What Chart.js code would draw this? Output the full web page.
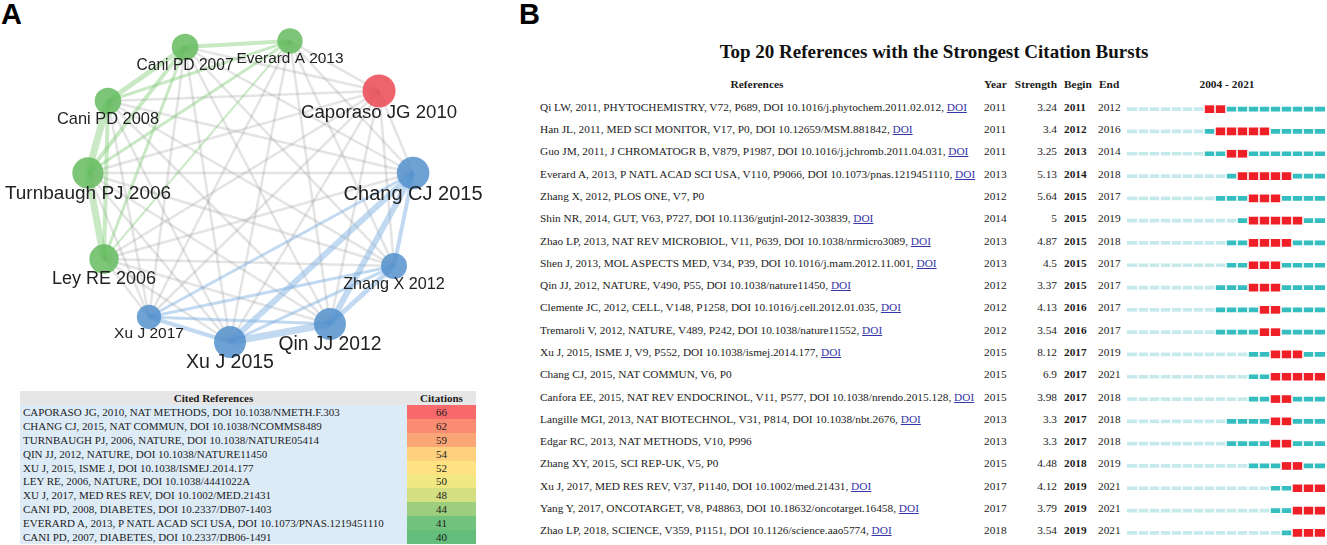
<!DOCTYPE html>
<html>
<head>
<meta charset="utf-8">
<script src="https://cdn.jsdelivr.net/npm/chart.js@4.4.0/dist/chart.umd.min.js"></script>
<style>
  html, body { margin: 0; padding: 0; background: #fff; }
  body { width: 1327px; height: 545px; position: relative; overflow: hidden;
         font-family: "Liberation Serif", "Times New Roman", serif; color: #1c1c1c; }
  .abs { position: absolute; white-space: nowrap; }
  .tag { font-family: "Liberation Sans", Arial, sans-serif; font-weight: bold; font-size: 29px; line-height: 29px; color: #000; }
  .title { font-weight: bold; font-size: 19px; line-height: 22px; text-align: center; color: #111; }
  .hdr { font-weight: bold; font-size: 11.4px; line-height: 14px; }
  .row { font-size: 11.3px; line-height: 14px; }
  .doi { color: #3535a8; text-decoration: underline; }
  .cell { position: absolute; font-size: 11px; line-height: 14px; white-space: nowrap; overflow: hidden; }
</style>
</head>
<body>
<div class="abs tag" style="left:1px;top:0">A</div>
<div class="abs tag" style="left:519px;top:0">B</div>
<canvas id="network" width="510" height="385" style="position:absolute;left:0;top:0"></canvas>
<div id="citeTable"></div>
<div class="abs title" style="left:634px;top:41px;width:600px">Top 20 References with the Strongest Citation Bursts</div>
<div id="burstText"></div>
<canvas id="bursts" width="207" height="545" style="position:absolute;left:1120px;top:0"></canvas>
<script>
// ---- panel A: co-citation network ----
var nodeNames = ['Caporaso JG 2010', 'Chang CJ 2015', 'Turnbaugh PJ 2006', 'Qin JJ 2012', 'Xu J 2015',
                 'Ley RE 2006', 'Xu J 2017', 'Cani PD 2008', 'Everard A 2013', 'Cani PD 2007', 'Zhang X 2012'];
var nodeCluster = ['red', 'blue', 'green', 'blue', 'blue', 'green', 'blue', 'green', 'green', 'green', 'blue'];

// links inside the two clusters: [source, target, weight]
var clusterLinks = [
    ['Cani PD 2007', 'Everard A 2013', 4], ['Cani PD 2007', 'Cani PD 2008', 5],
    ['Cani PD 2008', 'Turnbaugh PJ 2006', 7], ['Turnbaugh PJ 2006', 'Ley RE 2006', 7],
    ['Cani PD 2008', 'Ley RE 2006', 4], ['Cani PD 2007', 'Turnbaugh PJ 2006', 4],
    ['Cani PD 2007', 'Ley RE 2006', 3], ['Everard A 2013', 'Cani PD 2008', 3],
    ['Everard A 2013', 'Turnbaugh PJ 2006', 3], ['Everard A 2013', 'Ley RE 2006', 2],
    ['Chang CJ 2015', 'Zhang X 2012', 4], ['Chang CJ 2015', 'Qin JJ 2012', 6],
    ['Chang CJ 2015', 'Xu J 2015', 6], ['Chang CJ 2015', 'Xu J 2017', 3],
    ['Zhang X 2012', 'Qin JJ 2012', 5], ['Zhang X 2012', 'Xu J 2015', 3],
    ['Zhang X 2012', 'Xu J 2017', 3], ['Qin JJ 2012', 'Xu J 2015', 7],
    ['Qin JJ 2012', 'Xu J 2017', 3], ['Xu J 2015', 'Xu J 2017', 4]
];

// layout of the network (normalised coordinates) and node sizes
var nodeX = [0.717, 0.906, -0.9, 0.444, -0.111, -0.811, -0.561, -0.789, 0.222, -0.361, 0.8];
var nodeY = [-0.606, -0.15, -0.15, 0.689, 0.789, 0.328, 0.65, -0.55, -0.883, -0.85, 0.367];
var nodeRadius = [16.5, 16.3, 15.7, 16, 16, 14.7, 12.2, 13.3, 12.7, 13.3, 13];
var labelSize = [18.6, 20, 19, 19.3, 19.5, 18, 15.5, 16.4, 15.4, 15.6, 16.2];

// ---- panel A: cited references table ----
var citedRefs = [
    'CAPORASO JG, 2010, NAT METHODS, DOI 10.1038/NMETH.F.303',
    'CHANG CJ, 2015, NAT COMMUN, DOI 10.1038/NCOMMS8489',
    'TURNBAUGH PJ, 2006, NATURE, DOI 10.1038/NATURE05414',
    'QIN JJ, 2012, NATURE, DOI 10.1038/NATURE11450',
    'XU J, 2015, ISME J, DOI 10.1038/ISMEJ.2014.177',
    'LEY RE, 2006, NATURE, DOI 10.1038/4441022A',
    'XU J, 2017, MED RES REV, DOI 10.1002/MED.21431',
    'CANI PD, 2008, DIABETES, DOI 10.2337/DB07-1403',
    'EVERARD A, 2013, P NATL ACAD SCI USA, DOI 10.1073/PNAS.1219451110',
    'CANI PD, 2007, DIABETES, DOI 10.2337/DB06-1491'
];
var citations = [66, 62, 59, 54, 52, 50, 48, 44, 41, 40];

// ---- panel B: citation bursts ----
var burstRefs = [
    'Qi LW, 2011, PHYTOCHEMISTRY, V72, P689, DOI 10.1016/j.phytochem.2011.02.012',
    'Han JL, 2011, MED SCI MONITOR, V17, P0, DOI 10.12659/MSM.881842',
    'Guo JM, 2011, J CHROMATOGR B, V879, P1987, DOI 10.1016/j.jchromb.2011.04.031',
    'Everard A, 2013, P NATL ACAD SCI USA, V110, P9066, DOI 10.1073/pnas.1219451110',
    'Zhang X, 2012, PLOS ONE, V7, P0',
    'Shin NR, 2014, GUT, V63, P727, DOI 10.1136/gutjnl-2012-303839',
    'Zhao LP, 2013, NAT REV MICROBIOL, V11, P639, DOI 10.1038/nrmicro3089',
    'Shen J, 2013, MOL ASPECTS MED, V34, P39, DOI 10.1016/j.mam.2012.11.001',
    'Qin JJ, 2012, NATURE, V490, P55, DOI 10.1038/nature11450',
    'Clemente JC, 2012, CELL, V148, P1258, DOI 10.1016/j.cell.2012.01.035',
    'Tremaroli V, 2012, NATURE, V489, P242, DOI 10.1038/nature11552',
    'Xu J, 2015, ISME J, V9, P552, DOI 10.1038/ismej.2014.177',
    'Chang CJ, 2015, NAT COMMUN, V6, P0',
    'Canfora EE, 2015, NAT REV ENDOCRINOL, V11, P577, DOI 10.1038/nrendo.2015.128',
    'Langille MGI, 2013, NAT BIOTECHNOL, V31, P814, DOI 10.1038/nbt.2676',
    'Edgar RC, 2013, NAT METHODS, V10, P996',
    'Zhang XY, 2015, SCI REP-UK, V5, P0',
    'Xu J, 2017, MED RES REV, V37, P1140, DOI 10.1002/med.21431',
    'Yang Y, 2017, ONCOTARGET, V8, P48863, DOI 10.18632/oncotarget.16458',
    'Zhao LP, 2018, SCIENCE, V359, P1151, DOI 10.1126/science.aao5774'
];
var hasDoiLink = [true, true, true, true, false, true, true, true, true, true,
                  true, true, false, true, true, false, false, true, true, true];
var pubYear = [2011, 2011, 2011, 2013, 2012, 2014, 2013, 2013, 2012, 2012,
               2012, 2015, 2015, 2015, 2013, 2013, 2015, 2017, 2017, 2018];
var strength = [3.24, 3.4, 3.25, 5.13, 5.64, 5, 4.87, 4.5, 3.37, 4.13,
                3.54, 8.12, 6.9, 3.98, 3.3, 3.3, 4.48, 4.12, 3.79, 3.54];
var beginYear = [2011, 2012, 2013, 2014, 2015, 2015, 2015, 2015, 2015, 2016,
                 2016, 2017, 2017, 2017, 2017, 2017, 2018, 2019, 2019, 2019];
var endYear = [2012, 2016, 2014, 2018, 2017, 2019, 2018, 2017, 2017, 2017,
               2017, 2019, 2021, 2018, 2018, 2018, 2019, 2021, 2021, 2021];
var firstYear = 2004, lastYear = 2021;

// ================= network chart =================
var nodeColor = { green: 'rgba(96,186,90,0.82)', red: 'rgba(236,72,84,0.85)', blue: 'rgba(78,142,204,0.82)' };
var linkColor = { green: 'rgba(120,200,110,0.4)', blue: 'rgba(120,172,225,0.45)', gray: 'rgba(130,130,130,0.22)' };

function pos(name) {
    var i = nodeNames.indexOf(name);
    return { x: nodeX[i], y: nodeY[i] };
}

var linkSets = [];
var linked = {};
clusterLinks.forEach(function (l) {
    linked[l[0] + '|' + l[1]] = linked[l[1] + '|' + l[0]] = true;
    linkSets.push({
        data: [pos(l[0]), pos(l[1])], showLine: true, pointRadius: 0,
        borderColor: linkColor[nodeCluster[nodeNames.indexOf(l[0])]], borderWidth: l[2], order: 1
    });
});
// every other pair is co-cited as well, drawn as thin grey links
for (var a = 0; a < nodeNames.length; a++) {
    for (var b = a + 1; b < nodeNames.length; b++) {
        if (linked[nodeNames[a] + '|' + nodeNames[b]]) continue;
        linkSets.push({
            data: [pos(nodeNames[a]), pos(nodeNames[b])], showLine: true, pointRadius: 0,
            borderColor: linkColor.gray, borderWidth: 2.5, order: 1
        });
    }
}

var nodeLabels = {
    id: 'nodeLabels',
    afterDatasetsDraw: function (chart) {
        var ctx = chart.ctx;
        var meta = chart.getDatasetMeta(0);
        ctx.save();
        ctx.fillStyle = '#222';
        ctx.textAlign = 'center';
        ctx.textBaseline = 'middle';
        meta.data.forEach(function (pt, i) {
            ctx.font = labelSize[i] + 'px "Liberation Sans", Arial, sans-serif';
            ctx.fillText(nodeNames[i], pt.x, pt.y + nodeRadius[i] + 5);
        });
        ctx.restore();
    }
};

new Chart(document.getElementById('network'), {
    type: 'scatter',
    data: {
        datasets: [{
            data: nodeNames.map(function (n) { return pos(n); }),
            pointRadius: nodeRadius,
            pointBackgroundColor: nodeCluster.map(function (c) { return nodeColor[c]; }),
            pointBorderWidth: 0,
            clip: false,
            order: 0
        }].concat(linkSets)
    },
    options: {
        responsive: false,
        animation: false,
        events: [],
        layout: { padding: 0, autoPadding: false },
        scales: {
            x: { type: 'linear', display: false, min: -1.3889, max: 1.4444 },
            y: { type: 'linear', display: false, reverse: true, min: -1.1111, max: 1.0278 }
        },
        plugins: { legend: { display: false }, tooltip: { enabled: false } }
    },
    plugins: [nodeLabels]
});

// ================= cited references table =================
function hex(c) { return [parseInt(c.slice(1, 3), 16), parseInt(c.slice(3, 5), 16), parseInt(c.slice(5, 7), 16)]; }
function mix(c1, c2, t) {
    var p = hex(c1), q = hex(c2);
    return 'rgb(' + p.map(function (v, k) { return Math.round(v + (q[k] - v) * t); }).join(',') + ')';
}
function scaleColor(v) {
    var sorted = citations.slice().sort(function (x, y) { return x - y; });
    var lo = sorted[0], hi = sorted[sorted.length - 1];
    var mid = (sorted[4] + sorted[5]) / 2;
    if (v <= mid) return mix('#63BE7B', '#FFEB84', (v - lo) / (mid - lo));
    return mix('#FFEB84', '#F8696B', (v - mid) / (hi - mid));
}

var tbl = document.getElementById('citeTable');
var tLeft = 20, tSplit = 407, tRight = 476, tTop = 391, hdrH = 14, rowH = 13.9;
var html = '';
html += '<div class="cell" style="left:' + tLeft + 'px;top:' + tTop + 'px;width:' + (tRight - tLeft) + 'px;height:' + hdrH + 'px;background:#e6e6e6"></div>';
html += '<div class="cell" style="left:' + tLeft + 'px;top:' + tTop + 'px;width:' + (tSplit - tLeft) + 'px;text-align:center;font-weight:bold">Cited References</div>';
html += '<div class="cell" style="left:' + tSplit + 'px;top:' + tTop + 'px;width:' + (tRight - tSplit) + 'px;text-align:center;font-weight:bold">Citations</div>';
citedRefs.forEach(function (r, i) {
    var top = Math.round(tTop + hdrH + rowH * i);
    var next = Math.round(tTop + hdrH + rowH * (i + 1));
    var h = next - top;
    html += '<div class="cell" style="left:' + tLeft + 'px;top:' + top + 'px;width:' + (tSplit - tLeft - 3) + 'px;height:' + h + 'px;line-height:' + h + 'px;padding-left:3px;background:#ddebf7">' + r + '</div>';
    html += '<div class="cell" style="left:' + tSplit + 'px;top:' + top + 'px;width:' + (tRight - tSplit) + 'px;height:' + h + 'px;line-height:' + h + 'px;text-align:center;background:' + scaleColor(citations[i]) + '">' + citations[i] + '</div>';
});
tbl.innerHTML = html;

// ================= burst timeline chart =================
var yearGaps = {
    id: 'yearGaps',
    afterDatasetsDraw: function (chart) {
        var ctx = chart.ctx, xs = chart.scales.x, area = chart.chartArea;
        ctx.save();
        ctx.strokeStyle = '#fff';
        ctx.lineWidth = 1.6;
        for (var y = firstYear + 1; y <= lastYear; y++) {
            var px = xs.getPixelForValue(y);
            ctx.beginPath();
            ctx.moveTo(px, area.top);
            ctx.lineTo(px, area.bottom);
            ctx.stroke();
        }
        ctx.restore();
    }
};

var burstChart = new Chart(document.getElementById('bursts'), {
    type: 'bar',
    data: {
        labels: burstRefs.map(function (r, i) { return i; }),
        datasets: [
            { label: 'burst', data: beginYear.map(function (b, i) { return [b, endYear[i] + 1]; }),
              backgroundColor: '#ee1f26', barThickness: 7, grouped: false, order: 0 },
            { label: 'cited', data: pubYear.map(function (y) { return [y, lastYear + 1]; }),
              backgroundColor: '#35bdbf', barThickness: 4, grouped: false, order: 1 },
            { label: 'before', data: pubYear.map(function (y) { return [firstYear, y]; }),
              backgroundColor: '#c6e9ec', barThickness: 3, grouped: false, order: 2 }
        ]
    },
    options: {
        indexAxis: 'y',
        responsive: false,
        animation: false,
        events: [],
        borderSkipped: false,
        layout: { padding: { left: 7, right: 2, top: 98, bottom: 1 } },
        scales: {
            x: { type: 'linear', display: false, min: firstYear, max: lastYear + 1 },
            y: { display: false, offset: true }
        },
        plugins: { legend: { display: false }, tooltip: { enabled: false } }
    },
    plugins: [yearGaps]
});

// text columns, placed on the rows of the timeline
var out = '';
out += '<div class="abs hdr" style="left:657px;top:77px;width:200px;text-align:center">References</div>';
out += '<div class="abs hdr" style="left:984px;top:77px">Year</div>';
out += '<div class="abs hdr" style="left:1000px;top:77px;width:57px;text-align:right">Strength</div>';
out += '<div class="abs hdr" style="left:1064px;top:77px">Begin</div>';
out += '<div class="abs hdr" style="left:1099px;top:77px">End</div>';
out += '<div class="abs hdr" style="left:1177px;top:77px;width:100px;text-align:center">' + firstYear + ' - ' + lastYear + '</div>';
burstRefs.forEach(function (r, i) {
    var cy = burstChart.scales.y.getPixelForValue(i) - 2.5;
    var top = (cy - 7).toFixed(1);
    out += '<div class="abs row" style="left:540px;top:' + top + 'px">' + r + (hasDoiLink[i] ? ', <span class="doi">DOI</span>' : '') + '</div>';
    out += '<div class="abs row" style="left:984px;top:' + top + 'px">' + pubYear[i] + '</div>';
    out += '<div class="abs row" style="left:1010px;top:' + top + 'px;width:47px;text-align:right">' + strength[i] + '</div>';
    out += '<div class="abs row" style="left:1064px;top:' + top + 'px;font-weight:bold">' + beginYear[i] + '</div>';
    out += '<div class="abs row" style="left:1098px;top:' + top + 'px">' + endYear[i] + '</div>';
});
document.getElementById('burstText').innerHTML = out;
</script>
</body>
</html>
